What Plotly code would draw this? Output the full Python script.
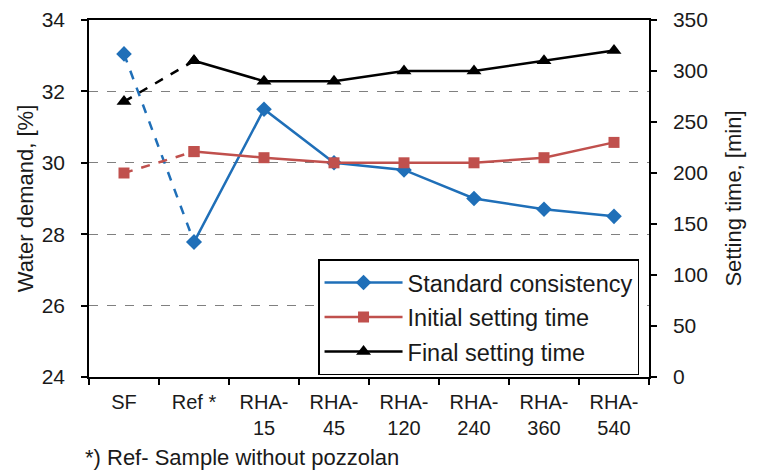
import plotly.graph_objects as go

# Mixes along the x axis
categories = ["SF", "Ref *", "RHA-<br>15", "RHA-<br>45", "RHA-<br>120",
              "RHA-<br>240", "RHA-<br>360", "RHA-<br>540"]

# Water demand, % (left axis)
standard_consistency = [33.05, 27.78, 31.5, 30.0, 29.8, 29.0, 28.7, 28.5]
# Setting times, min (right axis)
initial_setting = [200, 221, 215, 210, 210, 210, 215, 230]
final_setting = [270, 310, 290, 290, 300, 300, 310, 320]

BLUE = "#1f6fb8"
RED = "#c0504d"
BLACK = "#000000"
TEXT = "#1a1a1a"
FONT = "Liberation Sans, Arial, sans-serif"

series = [
    ("Standard consistency", standard_consistency, BLUE, "diamond", 12, "y"),
    ("Initial setting time", initial_setting, RED, "square", 11, "y2"),
    ("Final setting time", final_setting, BLACK, "triangle-up", 13, "y2"),
]

fig = go.Figure()
for i, (name, vals, color, symbol, msize, yax) in enumerate(series):
    marker = dict(symbol=symbol, size=msize, color=color)
    # SF -> Ref segment is dashed
    fig.add_trace(go.Scatter(
        x=categories[:2], y=vals[:2], yaxis=yax, mode="lines+markers",
        line=dict(color=color, width=2.5, dash="dash"), marker=marker,
        showlegend=False, hoverinfo="skip"))
    # Ref onwards is solid and carries the legend entry
    fig.add_trace(go.Scatter(
        x=categories[1:], y=vals[1:], yaxis=yax, mode="lines+markers",
        line=dict(color=color, width=2.5), marker=marker,
        name=name, legendgroup=f"g{i}"))

fig.update_layout(
    width=760, height=475,
    margin=dict(l=89, r=111, t=20, b=98),
    paper_bgcolor="white", plot_bgcolor="white",
    font=dict(family=FONT, size=21, color=TEXT),
    showlegend=True,
    legend=dict(
        x=0.409, y=0.33, xanchor="left", yanchor="top",
        bordercolor="black", borderwidth=1.5, bgcolor="white",
        font=dict(family=FONT, size=23.5, color=TEXT),
        tracegroupgap=1, traceorder="grouped", itemwidth=78,
    ),
    xaxis=dict(
        type="category", range=[-0.5, 7.5], automargin=False,
        showline=True, linecolor="black", linewidth=1.5, mirror=True,
        ticks="outside", ticklen=6, tickcolor="black", tickwidth=1.5,
        tickson="boundaries", showgrid=False, ticklabelstandoff=6,
        tickfont=dict(size=20),
    ),
    yaxis=dict(
        range=[24, 34], dtick=2, automargin=False,
        showline=True, linecolor="black", linewidth=1.5,
        ticks="outside", ticklen=6, tickcolor="black", tickwidth=1.5,
        showgrid=True, gridcolor="#808080", griddash="dash", gridwidth=1,
        zeroline=False, ticklabelstandoff=12,
        title=dict(text="Water demand, [%]", font=dict(size=22), standoff=2),
        tickfont=dict(size=21),
    ),
    yaxis2=dict(
        range=[0, 350], dtick=50, overlaying="y", side="right",
        automargin=False,
        showline=True, linecolor="black", linewidth=1.5,
        ticks="outside", ticklen=6, tickcolor="black", tickwidth=1.5,
        showgrid=False, zeroline=False, ticklabelstandoff=12,
        title=dict(text="Setting time, [min]", font=dict(size=22), standoff=19),
        tickfont=dict(size=21),
    ),
    annotations=[dict(
        text="*) Ref- Sample without pozzolan", xref="paper", yref="paper",
        x=-0.011, y=-0.226, xanchor="left", yanchor="middle",
        showarrow=False, font=dict(size=22, color=TEXT),
    )],
)

fig.write_html("out.html")
